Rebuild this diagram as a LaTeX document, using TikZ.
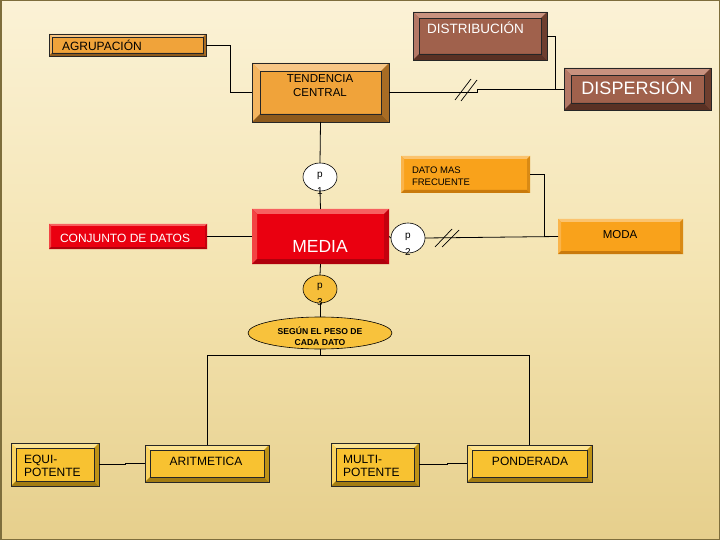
\documentclass[tikz,border=0pt]{standalone}
\usepackage{fontspec}
\setmainfont{Liberation Sans}
\usetikzlibrary{shapes.geometric}
\definecolor{bgtop}{HTML}{FBF2D6}
\definecolor{bgmid}{HTML}{F4E4B2}
\definecolor{bgbot}{HTML}{E6CF8C}
\definecolor{orF}{HTML}{F0A33A}
\definecolor{orT}{HTML}{F7C685}
\definecolor{orL}{HTML}{F4B560}
\definecolor{orB}{HTML}{8E5A1C}
\definecolor{orR}{HTML}{A86C24}
\definecolor{brF}{HTML}{A0614C}
\definecolor{brT}{HTML}{C8927F}
\definecolor{brL}{HTML}{B47866}
\definecolor{brB}{HTML}{5A3124}
\definecolor{brR}{HTML}{6E3E2E}
\definecolor{ylF}{HTML}{F8C231}
\definecolor{ylT}{HTML}{FCE391}
\definecolor{ylL}{HTML}{FAD360}
\definecolor{ylB}{HTML}{A37C12}
\definecolor{ylR}{HTML}{BE9216}
\definecolor{soF}{HTML}{F9A21B}
\definecolor{soT}{HTML}{FBC36E}
\definecolor{soL}{HTML}{FAB44A}
\definecolor{soB}{HTML}{C97A0C}
\definecolor{soR}{HTML}{D98A14}
\definecolor{rdF}{HTML}{EA0010}
\definecolor{rdT}{HTML}{F76060}
\definecolor{rdL}{HTML}{F24444}
\definecolor{rdB}{HTML}{B0000C}
\definecolor{rdR}{HTML}{C4000E}
\definecolor{pthree}{HTML}{F6BE3A}
\definecolor{ellfill}{HTML}{F8C23C}
\definecolor{frame}{HTML}{7E6E3C}
\newcommand\bevbox[6]{%
 \fill[#3] (#1.north west) -- (#1.north east) -- ([shift={(-#2pt,-#2pt)}]#1.north east) -- ([shift={(#2pt,-#2pt)}]#1.north west) -- cycle;
 \fill[#4] (#1.north west) -- ([shift={(#2pt,-#2pt)}]#1.north west) -- ([shift={(#2pt,#2pt)}]#1.south west) -- (#1.south west) -- cycle;
 \fill[#5] (#1.south west) -- ([shift={(#2pt,#2pt)}]#1.south west) -- ([shift={(-#2pt,#2pt)}]#1.south east) -- (#1.south east) -- cycle;
 \fill[#6] (#1.south east) -- ([shift={(-#2pt,#2pt)}]#1.south east) -- ([shift={(-#2pt,-#2pt)}]#1.north east) -- (#1.north east) -- cycle;
}
\newcommand\outlbox[2]{%
 \draw[outl] (#1.north west) rectangle (#1.south east);
 \draw[outl] ([shift={(#2pt,-#2pt)}]#1.north west) rectangle ([shift={(-#2pt,#2pt)}]#1.south east);
}
\begin{document}
\begin{tikzpicture}[x=1pt,y=-1pt,
  box/.style={rectangle, inner sep=0pt, outer sep=0pt, draw=none},
  outl/.style={draw=black!85, line width=0.6pt},
  conn/.style={draw=black, line width=0.8pt},
  brk/.style={draw=black, line width=0.7pt},
  pcirc/.style={ellipse, draw=black, line width=0.6pt, minimum width=34pt, minimum height=28pt, inner sep=0pt, outer sep=0pt},
  txt/.style={inner sep=0pt, outer sep=0pt},
  f11/.style={font=\fontsize{12}{14}\selectfont},
  f12/.style={font=\fontsize{12}{13}\selectfont}]
\useasboundingbox (0,0) rectangle (720,540);
\shade[top color=bgtop, bottom color=bgbot, middle color=bgmid] (0,0) rectangle (720,540);
\draw[frame, line width=1.5pt] (0.75,0.75) rectangle (719.25,539.25);

% boxes
\node[box, fill=brF, minimum width=134pt, minimum height=48pt] (dist) at (480,36) {};
\node[box, fill=orF, minimum width=157pt, minimum height=22pt] (agr) at (127.5,45) {};
\node[box, fill=orF, minimum width=137pt, minimum height=59pt] (tend) at (320.5,92.5) {};
\node[box, fill=brF, minimum width=147pt, minimum height=42pt] (disp) at (637.5,89) {};
\node[box, fill=soF, minimum width=129pt, minimum height=37pt] (dato) at (465.5,174.5) {};
\node[box, fill=rdF, minimum width=137pt, minimum height=55pt] (media) at (320.5,236.5) {};
\node[box, fill=soF, minimum width=125pt, minimum height=35pt] (moda) at (620.5,236.5) {};
\node[box, fill=rdF, minimum width=158pt, minimum height=25pt] (conj) at (128,236.5) {};
\node[box, fill=ylF, minimum width=88pt, minimum height=43pt] (equi) at (55,464.5) {};
\node[box, fill=ylF, minimum width=124pt, minimum height=37pt] (arit) at (207,463.5) {};
\node[box, fill=ylF, minimum width=88pt, minimum height=43pt] (multi) at (375,464.5) {};
\node[box, fill=ylF, minimum width=125pt, minimum height=37pt] (pond) at (529.5,463.5) {};

\bevbox{dist}{6}{brT}{brL}{brB}{brR}\outlbox{dist}{6}
\bevbox{agr}{3}{orT}{orL}{orB}{orR}\outlbox{agr}{3}
\bevbox{tend}{8}{orT}{orL}{orB}{orR}\outlbox{tend}{8}
\bevbox{disp}{7}{brT}{brL}{brB}{brR}\outlbox{disp}{7}
\bevbox{dato}{3}{soT}{soL}{soB}{soR}
\bevbox{media}{5}{rdT}{rdL}{rdB}{rdR}
\bevbox{moda}{3}{soT}{soL}{soB}{soR}
\bevbox{conj}{2}{rdT}{rdL}{rdB}{rdR}
\bevbox{equi}{5}{ylT}{ylL}{ylB}{ylR}\outlbox{equi}{5}
\bevbox{arit}{5}{ylT}{ylL}{ylB}{ylR}\outlbox{arit}{5}
\bevbox{multi}{5}{ylT}{ylL}{ylB}{ylR}\outlbox{multi}{5}
\bevbox{pond}{5}{ylT}{ylL}{ylB}{ylR}\outlbox{pond}{5}

% circles and ellipse
\node[pcirc, fill=white] (p1) at (320,177) {};
\node[pcirc, fill=white, minimum height=30pt] (p2) at (408,238) {};
\node[pcirc, fill=pthree] (p3) at (320,289) {};
\node[ellipse, draw=black, line width=0.6pt, fill=ellfill, minimum width=144pt, minimum height=32pt, inner sep=0pt, outer sep=0pt] (ell) at (320,333) {};

% connectors
\draw[conn] (agr.east) -- ++(24,0) |- (tend.west);
\draw[conn] (tend.east) -- ++(88,0) |- (disp.west);
\draw[conn] (dist.east) -- ++(8,0) |- (disp.west);
\draw[brk] (455,100) -- (471,79);
\draw[brk] (461,101) -- (477,80);
\draw[conn] (tend.south) -- (p1.north);
\draw[conn] (p1.south) -- (media.north);
\draw[conn] (media.south) -- (p3.north);
\draw[conn] (p3.south) -- (ell.north);
\draw[conn] (conj.east) -- (media.west);
\draw[conn] (media.east) -- (p2.west);
\draw[conn] (p2.east) -- (moda.west);
\draw[brk] (435,247) -- (452,229);
\draw[brk] (442,247) -- (459,230);
\draw[conn] (dato.east) -- ++(14,0) |- (moda.west);
\coordinate (j) at (320,355);
\draw[conn] (ell.south) -- (j);
\draw[conn] (j) -| (arit.north);
\draw[conn] (j) -| (pond.north);
\draw[conn] (equi.east) -- ++(26,0) |- (arit.west);
\draw[conn] (multi.east) -- ++(28,0) |- (pond.west);

% texts
\node[txt, anchor=west, text=white, font=\fontsize{13.5}{15}\selectfont] (tdist) at (427,28) {DISTRIBUCIÓN};
\node[txt, anchor=west, f11] (tagr) at (62,45) {AGRUPACIÓN};
\node[txt, align=center, font=\fontsize{11.5}{14}\selectfont] (ttend) at (320,86) {TENDENCIA\\CENTRAL};
\node[txt, text=white, font=\fontsize{18}{20}\selectfont] (tdisp) at (637,87) {DISPERSIÓN};
\node[txt, anchor=west, align=left, font=\fontsize{9.5}{12}\selectfont] (tdato) at (412,176) {DATO MAS\\FRECUENTE};
\node[txt, text=white, font=\fontsize{17.5}{19}\selectfont] (tmedia) at (320,246) {MEDIA};
\node[txt, font=\fontsize{11.5}{13}\selectfont] (tmoda) at (620,235) {MODA};
\node[txt, anchor=west, text=white, f11] (tconj) at (60,238) {CONJUNTO DE DATOS};
\node[txt, anchor=west, align=left, f12] (tequi) at (24,466) {EQUI-\\POTENTE};
\node[txt, f12] (tarit) at (206,461) {ARITMETICA};
\node[txt, anchor=west, align=left, f12] (tmulti) at (343,466) {MULTI-\\POTENTE};
\node[txt, f12] (tpond) at (530,461) {PONDERADA};
\node[txt, align=center, font=\fontsize{8.6}{11.5}\bfseries\selectfont] (tell) at (320,336) {SEGÚN EL PESO DE\\CADA DATO};
\node[txt, font=\fontsize{10}{12}\selectfont] (tp1a) at (320,176) {p};
\node[txt, font=\fontsize{10}{12}\selectfont] (tp1b) at (320,191) {1};
\node[txt, font=\fontsize{10}{12}\selectfont] (tp2a) at (408,237) {p};
\node[txt, font=\fontsize{10}{12}\selectfont] (tp2b) at (408,252) {2};
\node[txt, font=\fontsize{10}{12}\selectfont] (tp3a) at (320,287) {p};
\node[txt, font=\fontsize{10}{12}\selectfont] (tp3b) at (320,302) {3};
\end{tikzpicture}
\end{document}
